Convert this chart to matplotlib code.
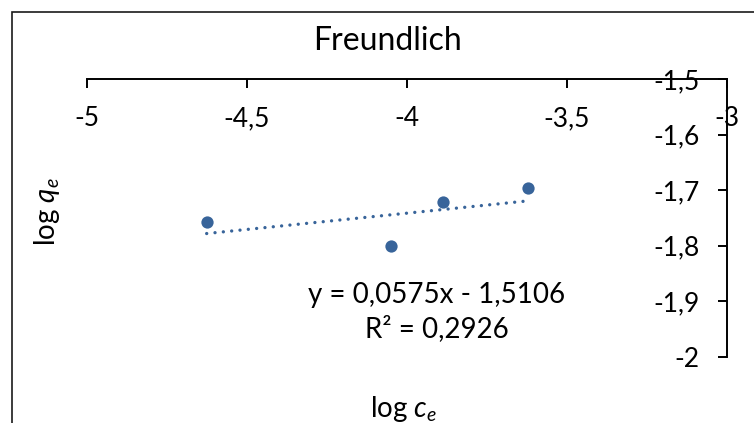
import matplotlib
matplotlib.use('Agg')
import matplotlib.pyplot as plt
from matplotlib.patches import Rectangle
import numpy as np

plt.rcParams['font.family'] = ['Lato', 'DejaVu Sans']
plt.rcParams['axes.unicode_minus'] = False
plt.rcParams['mathtext.fontset'] = 'custom'
plt.rcParams['mathtext.rm'] = 'Lato'
plt.rcParams['mathtext.it'] = 'Lato:italic'

# data
log_ce = [-4.626, -4.051, -3.886, -3.621]
log_qe = [-1.757, -1.801, -1.722, -1.696]
x_ticks = [-5, -4.5, -4, -3.5, -3]
x_labels = ['-5', '-4,5', '-4', '-3,5', '-3']
y_ticks = [-2, -1.9, -1.8, -1.7, -1.6, -1.5]
y_labels = ['-2', '-1,9', '-1,8', '-1,7', '-1,6', '-1,5']
eq_text = 'y = 0,0575x - 1,5106\nR² = 0,2926'

BLUE = '#38649a'
INK = '#000000'

fig = plt.figure(figsize=(7.54, 4.23), dpi=100)
W, H = 754, 423
ax = fig.add_axes([87 / W, 1 - 357 / H, (727 - 87) / W, (357 - 79) / H])

ax.scatter(log_ce, log_qe, s=78, color=BLUE, zorder=4, linewidths=0)

# linear trendline over data range
k, b = np.polyfit(log_ce, log_qe, 1)
xs = np.array([min(log_ce), max(log_ce)])
ax.plot(xs, k * xs + b, color=BLUE, linewidth=2.4,
        linestyle=(0, (0.01, 2.5)), dash_capstyle='round', zorder=3)

ax.set_xlim(-5, -3)
ax.set_ylim(-2, -1.5)

# Excel-style crossing axes: x axis at y=-1.5, y axis at x=-3
ax.spines['bottom'].set_position(('data', -1.5))
ax.spines['left'].set_position(('data', -3))
ax.spines['top'].set_visible(False)
ax.spines['right'].set_visible(False)
for s in ('bottom', 'left'):
    ax.spines[s].set_linewidth(1.4)
    ax.spines[s].set_color(INK)
ax.patch.set_visible(False)

ax.set_xticks(x_ticks)
ax.set_xticklabels(x_labels)
ax.set_yticks(y_ticks)
ax.set_yticklabels(y_labels)
ax.tick_params(direction='out', length=6.5, width=1.4, color=INK,
               labelsize=19, labelcolor=INK, pad=13)

fig.text(388 / W, 1 - 41 / H, 'Freundlich', ha='center', va='center',
         fontsize=23, color=INK)
fig.text(47 / W, 1 - 212 / H, 'log $q_e$', ha='center', va='center',
         rotation=90, fontsize=20, color=INK)
fig.text(404 / W, 1 - 417 / H, 'log $c_e$', ha='center', va='baseline',
         fontsize=20, color=INK)
fig.text(437 / W, 1 - 312 / H, eq_text, ha='center', va='center',
         fontsize=20, color=INK, linespacing=1.3)

# chart frame, cropped at right and bottom
fig.add_artist(Rectangle((12 / W, -0.1), 1.2, 1 - 12 / H + 0.1,
                         transform=fig.transFigure, fill=False,
                         edgecolor='#1a1a1a', linewidth=1.2))

fig.savefig('out.png', dpi=100)
